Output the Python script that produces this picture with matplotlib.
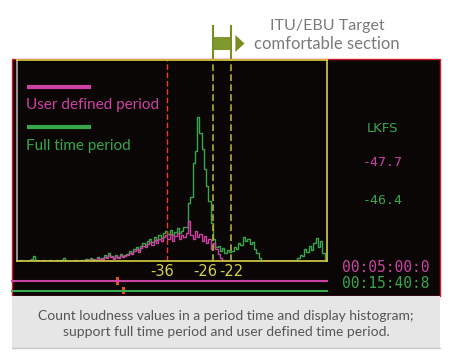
import numpy as np
import matplotlib
matplotlib.use('Agg')
import matplotlib.pyplot as plt
import matplotlib.transforms as mtransforms
from matplotlib.patches import Rectangle, Polygon

# loudness histogram, 0.5 LKFS bins starting at -69
bin_start = -69.0
bin_width = 0.5
full_time = [0, 1, 0, 0, 0, 1, 2, 5, 1, 0, 0, 1, 0, 0, 1, 0, 0, 1,
             0, 1, 3, 1, 0, 0, 0, 1, 0, 0,
             1, 0, 2, 1, 3, 2, 1, 4, 2, 3,
             6, 4, 8, 5, 3, 6, 4, 7, 5, 6,
             7, 10, 8, 12, 14, 11, 15, 18, 16, 20,
             22, 19, 24, 21, 26, 23, 28, 30,
             27, 31, 26, 29, 33, 28, 30, 34,
             34, 58, 64, 98, 110, 144, 128, 112, 92, 75, 60, 38,
             22, 14, 15, 10, 13, 8, 11, 9,
             10, 14, 12, 18, 16, 24, 20, 22,
             17, 19, 12, 8, 3, 0,
             0, 0, 0, 0, 0, 0, 0, 0, 0, 0, 0, 0, 0, 0,
             0, 3, 6, 5, 12, 9,
             15, 11, 18, 23, 14, 20, 8, 2]
user_defined = [0] * 18 + [0] * 10 + \
               [0, 0, 1, 0, 2, 1, 0, 3, 2, 2,
                4, 3, 6, 4, 2, 5, 3, 6, 4, 5,
                6, 8, 7, 10, 12, 9, 13, 15, 14, 17,
                19, 16, 21, 18, 22, 20, 24, 26,
                22, 27, 20, 25, 28, 22, 26, 24,
                28, 40, 26, 22, 30, 24, 27, 20, 25, 18, 22, 12,
                18, 12, 7, 3, 1, 0, 0, 0] + [0] * 42

ticks = [-36, -26, -22]
target = [-26, -22]
lkfs_user = '-47.7'
lkfs_full = '-46.4'
time_user = '00:05:00:0'
time_full = '00:15:40:8'

W, H = 450, 364
GREEN = '#36a84a'
MAGENTA = '#cc42a2'
YEL = '#d6cf48'
OLIVE = '#7b8d22'

fig = plt.figure(figsize=(4.5, 3.64), dpi=100)
fig.patch.set_facecolor('white')

# pixel-space canvas for the decoration
bg = fig.add_axes([0, 0, 1, 1])
bg.set_xlim(0, W)
bg.set_ylim(H, 0)
bg.axis('off')

bg.add_patch(Rectangle((12, 59), 428, 237, facecolor='#0a0606', edgecolor='#d01828', lw=1))
bg.add_patch(Rectangle((12, 296), 428, 52, facecolor='#e6e6e6', edgecolor='none'))
bg.plot([12, 440], [348, 348], color='#c8c8c8', lw=1)

# legend
bg.plot([27, 91], [87, 87], color=MAGENTA, lw=3, solid_capstyle='butt')
bg.text(26, 105, 'User defined period', color=MAGENTA, fontsize=11, family='Lato', va='center')
bg.plot([27, 91], [127, 127], color=GREEN, lw=3, solid_capstyle='butt')
bg.text(26, 146, 'Full time period', color=GREEN, fontsize=11, family='Lato', va='center')

# readouts
mono = 'DejaVu Sans Mono'
bg.text(383, 129, 'LKFS', color=GREEN, fontsize=9.5, family='DejaVu Sans', ha='center', va='center')
bg.text(383, 163, lkfs_user, color=MAGENTA, fontsize=9.5, family=mono, ha='center', va='center')
bg.text(383, 200, lkfs_full, color=GREEN, fontsize=9.5, family=mono, ha='center', va='center')
bg.text(386, 267, time_user, color=MAGENTA, fontsize=10.5, family=mono, ha='center', va='center')
bg.text(386, 283, time_full, color=GREEN, fontsize=10.5, family=mono, ha='center', va='center')

# timeline bars
bg.plot([12, 327], [281, 281], color=MAGENTA, lw=1.5)
bg.plot([12, 327], [291, 291], color=GREEN, lw=1.5)
bg.add_patch(Rectangle((115.5, 277), 3, 8, facecolor='#e85020', edgecolor='none'))
bg.add_patch(Rectangle((121.5, 287), 3, 7, facecolor='#e85020', edgecolor='none'))

# headline
bg.text(327, 26, 'ITU/EBU Target', color='#7a7a7a', fontsize=11.5, family='Lato', ha='center', va='center')
bg.text(327, 44, 'comfortable section', color='#7a7a7a', fontsize=12, family='Lato', ha='center', va='center')

# caption
cap = 'Count loudness values in a period time and display histogram;\nsupport full time period and user defined time period.'
bg.text(226, 324, cap, color='#555555', fontsize=10, family='Lato', ha='center', va='center',
        linespacing=1.35)

# histogram axes
ax = fig.add_axes([17 / W, 1 - 261 / H, 310 / W, 201 / H])
ax.set_facecolor('none')
edges = bin_start + bin_width * np.arange(len(full_time) + 1)
ax.stairs(full_time, edges, color=GREEN, lw=1, baseline=None)
ax.stairs(user_defined, edges, color=MAGENTA, lw=1, baseline=None)
ax.set_xlim(-69, -1)
ax.set_ylim(0, 201)

ax.axvline(-36, color='#e84020', lw=1, ls=(0, (4, 2)))
top = (261 - 26) / 201
for x in target:
    ax.axvline(x, ymin=0, ymax=1, color='#b4ac3c', lw=1.2, ls=(0, (4, 2)))
    ax.axvline(x, ymin=1, ymax=top, color=OLIVE, lw=1.5, clip_on=False)

trans = mtransforms.blended_transform_factory(ax.transData, ax.transAxes)
ax.add_patch(Rectangle((target[0], (261 - 50) / 201), target[1] - target[0], 13 / 201,
                       facecolor='#7f9a2c', edgecolor='none', transform=trans, clip_on=False))
ax.add_patch(Polygon([(-21.1, (261 - 35) / 201), (-21.1, (261 - 52) / 201), (-19.1, (261 - 43.5) / 201)],
                     closed=True, facecolor=OLIVE, edgecolor='none', transform=trans, clip_on=False))

ax.set_xticks(ticks)
ax.set_xticklabels([str(t) for t in ticks])
ax.set_yticks([])
ax.tick_params(axis='x', length=0, pad=2, colors=YEL, labelsize=10.5)
# nudge the crowded labels apart like the original screen
shifts = [-5, -8, 0]
for lab, dx in zip(ax.get_xticklabels(), shifts):
    lab.set_transform(lab.get_transform() + mtransforms.ScaledTranslation(dx / 100, 0, fig.dpi_scale_trans))
for s in ['top', 'right', 'bottom']:
    ax.spines[s].set_color(YEL)
    ax.spines[s].set_linewidth(1.2)
ax.spines['left'].set_color('#909090')
ax.spines['left'].set_linewidth(1.5)

fig.savefig('out.png', dpi=100)
